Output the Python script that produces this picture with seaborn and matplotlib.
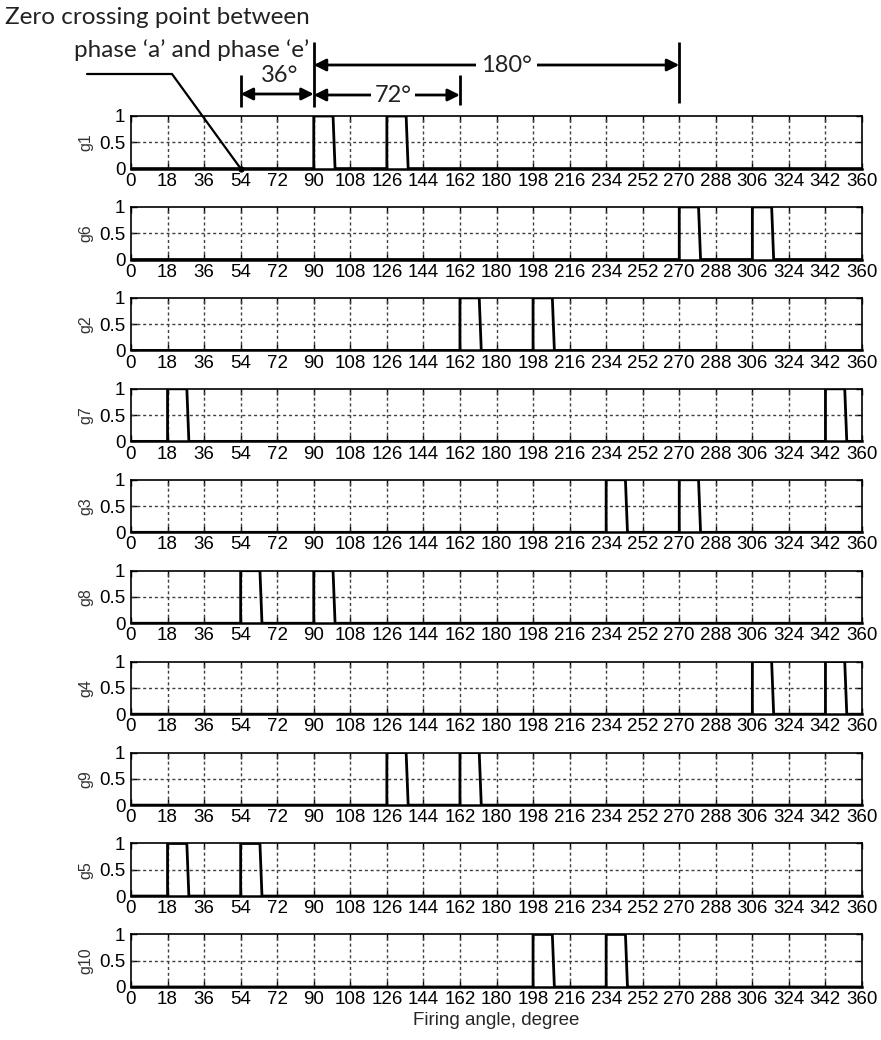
import numpy as np
import pandas as pd
import matplotlib
matplotlib.use("Agg")
import matplotlib.pyplot as plt
from matplotlib.lines import Line2D
from matplotlib.transforms import blended_transform_factory
import seaborn as sns

# Gate signals in the order they are stacked, with the angle (degrees)
# at which each firing pulse starts.
gate_names = ["g1", "g6", "g2", "g7", "g3", "g8", "g4", "g9", "g5", "g10"]
pulse_starts = [
    [90, 126],
    [270, 306],
    [162, 198],
    [18, 342],
    [234, 270],
    [54, 90],
    [306, 342],
    [126, 162],
    [18, 54],
    [198, 234],
]
pulse_flat = 9.5     # length of the flat top of a pulse, degrees
pulse_fall = 1.0     # duration of the falling edge, degrees
x_ticks = list(range(0, 361, 18))
y_ticks = [0, 0.5, 1]

# Angle markers drawn above the first trace
zero_cross = 54
span_36 = (54, 90, "36°")
span_72 = (90, 162, "72°")
span_180 = (90, 270, "180°")


def waveform(starts):
    xs, ys = [0], [0]
    for s in starts:
        xs += [s, s, s + pulse_flat, s + pulse_flat + pulse_fall]
        ys += [0, 1, 1, 0]
    xs.append(360)
    ys.append(0)
    return pd.DataFrame({"angle": xs, "level": ys})


sns.set_theme(style="ticks")
plt.rcParams["font.family"] = ["Liberation Sans", "DejaVu Sans"]

W, H = 881, 1040
fig, axes = plt.subplots(len(gate_names), 1, figsize=(W / 100, H / 100), dpi=100)
fig.subplots_adjust(left=131 / W, right=862 / W, top=1 - 116 / H,
                    bottom=1 - 987 / H, hspace=0.73)

grid_kw = dict(color="0.25", lw=1.0, linestyle=(0, (2.2, 2.0)), zorder=1)

for ax, name, starts in zip(axes, gate_names, pulse_starts):
    df = waveform(starts)
    sns.lineplot(data=df, x="angle", y="level", ax=ax, color="black",
                 lw=2.0, sort=False, estimator=None, zorder=3)
    ax.set_xlim(0, 360)
    ax.set_ylim(0, 1)
    ax.set_xticks(x_ticks)
    ax.set_xticklabels([str(t) for t in x_ticks])
    ax.set_yticks(y_ticks)
    ax.set_yticklabels(["0", "0.5", "1"])
    for t in x_ticks[1:-1]:
        ax.axvline(t, **grid_kw)
    ax.axhline(0.5, **grid_kw)
    ax.tick_params(axis="both", direction="in", length=4, width=1,
                   top=True, right=True, labelsize=13.5, colors="black",
                   pad=3)
    ax.tick_params(axis="y", pad=4)
    for sp in ax.spines.values():
        sp.set_color("black")
        sp.set_linewidth(1.2)
    ax.spines["bottom"].set_linewidth(1.8)
    ax.set_xlabel("")
    ax.set_ylabel(name, fontsize=11.5, labelpad=4, color="#333333")

axes[-1].set_xlabel("Firing angle, degree", fontsize=13.5, labelpad=3)

ax0 = axes[0]
trans = blended_transform_factory(ax0.transData, fig.transFigure)


def fy(py):
    return 1 - py / H


line_kw = dict(color="black", lw=2.0, solid_capstyle="butt")

# Vertical angle markers
for ang, y0, y1 in [(54, 75, 107), (90, 42, 107), (162, 75, 105), (270, 42, 103)]:
    fig.add_artist(Line2D([ang, ang], [fy(y0), fy(y1)], transform=trans,
                          **line_kw))

arrow_kw = dict(arrowstyle="<|-|>,head_length=0.6,head_width=0.3",
                color="black", lw=2.0, shrinkA=0, shrinkB=0)
txt_kw = dict(family=["Lato", "DejaVu Sans"], fontsize=17, color="#222222",
              ha="center", va="center")

# 36 degree span
a, b, lab = span_36
ax0.annotate("", xy=(a, fy(94)), xytext=(b, fy(94)), xycoords=trans,
             textcoords=trans, arrowprops=arrow_kw, annotation_clip=False)
ax0.text((a + b) / 2 + 1, fy(76), lab, transform=trans, **txt_kw)

# 72 degree span
a, b, lab = span_72
ax0.annotate("", xy=(a, fy(95)), xytext=(b, fy(95)), xycoords=trans,
             textcoords=trans, arrowprops=arrow_kw, annotation_clip=False)
ax0.text((a + b) / 2 + 3, fy(96), lab, transform=trans,
         bbox=dict(facecolor="white", edgecolor="none", pad=2.5), **txt_kw)

# 180 degree span
a, b, lab = span_180
ax0.annotate("", xy=(a, fy(65)), xytext=(b, fy(65)), xycoords=trans,
             textcoords=trans, arrowprops=arrow_kw, annotation_clip=False)
ax0.text((a + b) / 2 + 5, fy(65), lab, transform=trans,
         bbox=dict(facecolor="white", edgecolor="none", pad=3.5), **txt_kw)

# Leader to the zero crossing point
p_end = fig.transFigure.inverted().transform(
    ax0.transData.transform((zero_cross, 0)))
fig.add_artist(Line2D([87 / W, 172 / W, p_end[0]], [fy(74), fy(74), p_end[1]],
                      transform=fig.transFigure, color="black", lw=1.6))
fig.add_artist(Line2D([p_end[0]], [p_end[1]], transform=fig.transFigure,
                      marker="o", ms=3.5, color="black"))

note_kw = dict(family=["Lato", "DejaVu Sans"], fontsize=17.5, color="#222222",
               va="center")
fig.text(5 / W, fy(18), "Zero crossing point between", ha="left", **note_kw)
fig.text(309 / W, fy(50), "phase \u2018a\u2019 and phase \u2018e\u2019",
         ha="right", **note_kw)

fig.savefig("out.png", dpi=100)
